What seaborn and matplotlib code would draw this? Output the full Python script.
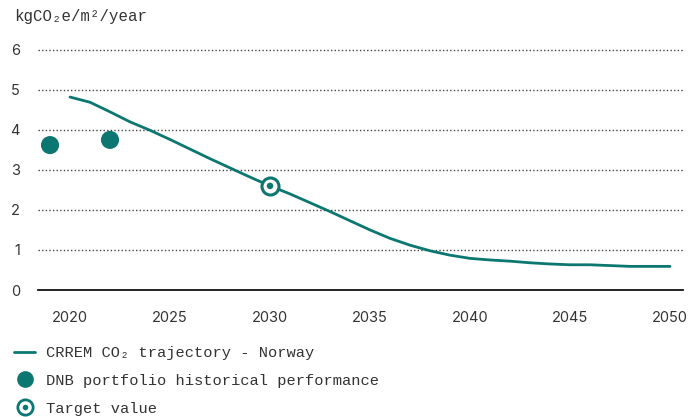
import matplotlib
matplotlib.use("Agg")
import matplotlib.pyplot as plt
from matplotlib.lines import Line2D
from matplotlib.legend_handler import HandlerTuple
from matplotlib.ticker import MultipleLocator
import seaborn as sns
import pandas as pd

# ---- data ----
traj_years = [2020, 2021, 2022, 2023, 2024, 2025, 2026, 2027, 2028, 2029, 2030,
              2031, 2032, 2033, 2034, 2035, 2036, 2037, 2038, 2039, 2040,
              2041, 2042, 2043, 2044, 2045, 2046, 2047, 2048, 2049, 2050]
traj_values = [4.82, 4.69, 4.45, 4.2, 3.99, 3.76, 3.52, 3.28, 3.05, 2.82, 2.6,
               2.4, 2.18, 1.96, 1.73, 1.5, 1.29, 1.12, 0.98, 0.87, 0.79,
               0.75, 0.72, 0.68, 0.65, 0.63, 0.63, 0.61, 0.59, 0.59, 0.59]
hist_years = [2019, 2022]
hist_values = [3.62, 3.75]
target_years = [2030]
target_values = [2.6]

series_labels = ["CRREM CO\u2082 trajectory - Norway",
                 "DNB portfolio historical performance",
                 "Target value"]
y_label = "kgCO\u2082e/m\u00b2/year"
y_ticks = [0, 1, 2, 3, 4, 5, 6]
x_ticks = [2020, 2025, 2030, 2035, 2040, 2045, 2050]

TEAL = "#0b7770"
TEXT = "#333333"
MONO = ["Liberation Mono", "DejaVu Sans Mono"]
SANS = ["Inter", "DejaVu Sans"]

sns.set_theme(style="white")
plt.rcParams["font.family"] = SANS

traj = pd.DataFrame({"year": traj_years, "value": traj_values})
hist = pd.DataFrame({"year": hist_years, "value": hist_values})
target = pd.DataFrame({"year": target_years, "value": target_values})

fig = plt.figure(figsize=(6.9, 4.17), dpi=100)
ax = fig.add_axes([38 / 690, 1 - 290 / 417, (683 - 38) / 690, (290 - 45) / 417])

sns.lineplot(data=traj, x="year", y="value", ax=ax, color=TEAL, linewidth=2.0, zorder=3)
sns.scatterplot(data=hist, x="year", y="value", ax=ax, color=TEAL, s=170,
                edgecolor="none", zorder=4)
sns.scatterplot(data=target, x="year", y="value", ax=ax, color="white", s=150,
                edgecolor=TEAL, linewidth=2.2, zorder=5)
sns.scatterplot(data=target, x="year", y="value", ax=ax, color=TEAL, s=22,
                edgecolor="none", zorder=6)

ax.set_xlim(2018.4, 2050.65)
ax.set_ylim(0, 6.12)
ax.set_xticks(x_ticks)
ax.xaxis.set_minor_locator(MultipleLocator(1))
ax.set_yticks(y_ticks)
ax.set_xlabel("")
ax.set_ylabel("")

for y in y_ticks[1:]:
    ax.axhline(y, color="#444444", linestyle=(0, (1, 1.6)), linewidth=1.0, zorder=1)

for s in ["top", "right", "left"]:
    ax.spines[s].set_visible(False)
ax.spines["bottom"].set_color("#111111")
ax.spines["bottom"].set_linewidth(1.3)

ax.tick_params(axis="x", which="major", direction="out", length=6, width=1.2,
               color="#222222", pad=9, labelsize=10.5, labelcolor=TEXT)
ax.tick_params(axis="x", which="minor", direction="out", length=2.5, width=1.0,
               color="#222222")
ax.tick_params(axis="y", length=0, pad=13, labelsize=10.5, labelcolor=TEXT)

fig.text(14 / 690, 1 - 16 / 417, y_label, ha="left", va="center",
         fontsize=11.3, color=TEXT, family=MONO)

h_line = Line2D([], [], color=TEAL, linewidth=2.0)
h_dot = Line2D([], [], color=TEAL, marker="o", markersize=12, linestyle="none",
               markeredgecolor="none")
h_ring = Line2D([], [], color=TEAL, marker="o", markersize=11, linestyle="none",
                markerfacecolor="white", markeredgecolor=TEAL, markeredgewidth=2.0)
h_core = Line2D([], [], color=TEAL, marker="o", markersize=4, linestyle="none",
                markeredgecolor="none")

leg = fig.legend([h_line, h_dot, (h_ring, h_core)], series_labels,
                 handler_map={tuple: HandlerTuple(ndivide=1, pad=0)},
                 loc="upper left", bbox_to_anchor=(14 / 690, 1 - 346 / 417),
                 frameon=False, handlelength=1.37, handletextpad=0.7,
                 labelspacing=0.9, borderaxespad=0, borderpad=0,
                 prop={"family": MONO, "size": 11.1})
for t in leg.get_texts():
    t.set_color(TEXT)

fig.savefig("out.png", dpi=100)
